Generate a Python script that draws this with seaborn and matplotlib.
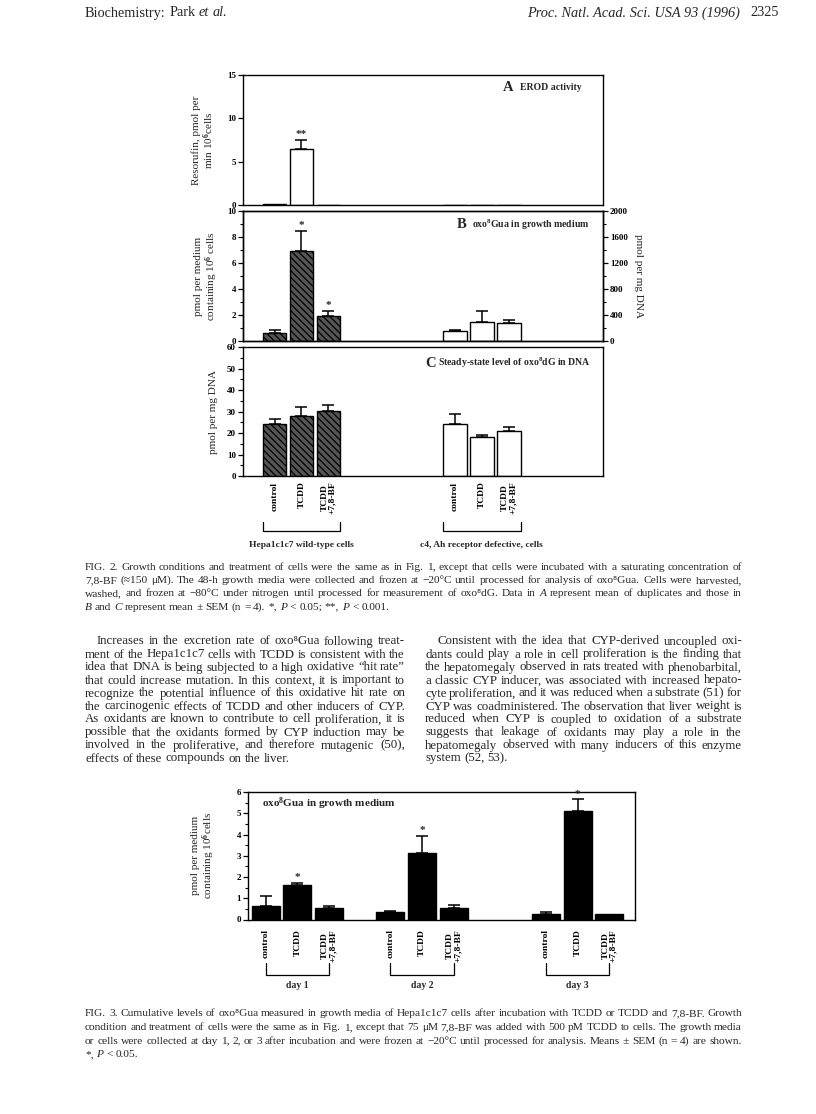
import matplotlib
matplotlib.use('Agg')
import matplotlib.pyplot as plt
from matplotlib.ticker import MultipleLocator
import numpy as np
import pandas as pd
import seaborn as sns

sns.set_theme(style='ticks')
plt.rcParams['font.family'] = ['Liberation Serif', 'DejaVu Serif']
plt.rcParams.update({
    'font.weight': 'bold',
    'mathtext.fontset': 'custom',
    'mathtext.rm': 'Liberation Serif:style=normal:weight=normal',
    'mathtext.it': 'Liberation Serif:style=italic:weight=normal',
    'mathtext.bf': 'Liberation Serif:style=normal:weight=bold',
    'axes.linewidth': 1.0,
    'axes.edgecolor': 'black',
    'hatch.linewidth': 0.9,
    'xtick.color': 'black',
    'ytick.color': 'black',
})

W, H, DPI = 816, 1114, 100

# ---- data ----
treatments = ['control', 'TCDD', 'TCDD\n+7,8-BF']
cell_groups = ['Hepa1c1c7 wild-type cells', 'c4, Ah receptor defective, cells']

# Fig 2A  EROD activity (resorufin, pmol per min 10^6 cells)
erod_wt = [0.15, 6.45, 0.05]
erod_wt_err = [0.0, 1.1, 0.0]
erod_c4 = [0.04, 0.04, 0.04]
erod_c4_err = [0.0, 0.0, 0.0]
erod_wt_sig = ['', '**', '']

# Fig 2B  oxo8Gua in growth medium
gua_wt = [0.62, 6.9, 1.91]
gua_wt_err = [0.26, 1.6, 0.39]
gua_c4 = [0.78, 1.5, 1.42]
gua_c4_err = [0.07, 0.8, 0.23]
gua_wt_sig = ['', '*', '*']

# Fig 2C  steady-state oxo8dG in DNA
dg_wt = [24.1, 27.8, 30.3]
dg_wt_err = [2.6, 4.5, 2.6]
dg_c4 = [24.4, 18.1, 20.7]
dg_c4_err = [4.3, 1.2, 2.2]

# Fig 3  cumulative oxo8Gua by day
days = ['day 1', 'day 2', 'day 3']
day1 = [0.64, 1.62, 0.52]
day1_err = [0.46, 0.11, 0.12]
day2 = [0.33, 3.14, 0.52]
day2_err = [0.08, 0.80, 0.14]
day3 = [0.27, 5.10, 0.27]
day3_err = [0.06, 0.55, 0.0]
day_sig = ['', '*', '']

# bar slots on the x axis (layout only)
wt_pos = [0, 1, 2]
c4_pos = [6.7, 7.7, 8.7]
day_pos = [[0, 1, 2], [3.93, 4.93, 5.93], [8.84, 9.84, 10.84]]

HATCH = '\\' * 5
BAR_W = 0.88


def box(x0, y0, x1, y1):
    return [x0 / W, 1 - y1 / H, (x1 - x0) / W, (y1 - y0) / H]


def bars(ax, pos, vals, errs, sig=None, **kw):
    df = pd.DataFrame({'x': pos, 'y': vals})
    sns.barplot(data=df, x='x', y='y', native_scale=True, width=BAR_W,
                errorbar=None, edgecolor='black', linewidth=1.0, ax=ax, **kw)
    e = np.array(errs)
    keep = e > 0
    if keep.any():
        ax.errorbar(np.array(pos)[keep], np.array(vals)[keep],
                    yerr=[np.zeros(keep.sum()), e[keep]], fmt='none',
                    ecolor='black', elinewidth=1.1, capsize=4.5, capthick=1.1,
                    zorder=3)
    if sig:
        for x, v, er, s in zip(pos, vals, errs, sig):
            if s:
                ax.annotate(s, (x, v + er), xytext=(0, 0.5),
                            textcoords='offset points', ha='center',
                            va='bottom', fontsize=8)


def bracket(ax, x0, x1, ytop, ybot):
    ax.plot([x0, x0, x1, x1], [ytop, ybot, ybot, ytop], color='black', lw=0.9,
            transform=ax.get_xaxis_transform(), clip_on=False)


def style_y(ax, top, major, minor):
    ax.set_ylim(0, top)
    ax.yaxis.set_major_locator(MultipleLocator(major))
    ax.yaxis.set_minor_locator(MultipleLocator(minor))
    ax.tick_params(axis='y', which='major', length=3.5, width=0.9,
                   labelsize=6.5, pad=1.5)
    ax.tick_params(axis='y', which='minor', length=2, width=0.8)


fig = plt.figure(figsize=(W / DPI, H / DPI), dpi=DPI)
fig.patch.set_facecolor('white')

# ---------------- Fig 2 ----------------
ax_a = fig.add_axes(box(243, 75, 603, 205))
bars(ax_a, wt_pos, erod_wt, erod_wt_err, erod_wt_sig, color='white')
bars(ax_a, c4_pos, erod_c4, erod_c4_err, color='white')
style_y(ax_a, 15, 5, 5)
ax_a.set_ylabel('Resorufin, pmol per\nmin 10$^{\\mathbf{6}}$cells', fontsize=8,
                linespacing=1.0)
ax_a.yaxis.set_label_coords(-0.075, 0.5)
ax_a.text(0.722, 0.905, 'A', transform=ax_a.transAxes, fontsize=10.5, va='center')
ax_a.text(0.769, 0.905, 'EROD activity', transform=ax_a.transAxes, fontsize=7,
          va='center')

ax_b = fig.add_axes(box(243, 211, 603, 341))
bars(ax_b, wt_pos, gua_wt, gua_wt_err, gua_wt_sig, color='#555555', hatch=HATCH)
bars(ax_b, c4_pos, gua_c4, gua_c4_err, color='white')
style_y(ax_b, 10, 2, 1)
ax_b.set_ylabel('pmol per medium\ncontaining 10$^{\\mathbf{6}}$ cells', fontsize=8,
                linespacing=1.0)
ax_b.yaxis.set_label_coords(-0.065, 0.5)
ax_b.text(0.594, 0.895, 'B', transform=ax_b.transAxes, fontsize=10.5, va='center')
ax_b.text(0.637, 0.895, 'oxo$^{\\mathbf{8}}$Gua in growth medium',
          transform=ax_b.transAxes, fontsize=7, va='center')
ax_b2 = ax_b.twinx()
style_y(ax_b2, 2000, 400, 200)
ax_b2.set_ylabel('pmol per mg DNA', fontsize=8, rotation=270, va='bottom')
ax_b2.yaxis.set_label_coords(1.085, 0.5)

ax_c = fig.add_axes(box(243, 347, 603, 476))
bars(ax_c, wt_pos, dg_wt, dg_wt_err, color='#555555', hatch=HATCH)
bars(ax_c, c4_pos, dg_c4, dg_c4_err, color='white')
style_y(ax_c, 60, 10, 5)
ax_c.set_ylabel('pmol per mg DNA', fontsize=8)
ax_c.yaxis.set_label_coords(-0.07, 0.5)
ax_c.text(0.506, 0.875, 'C', transform=ax_c.transAxes, fontsize=10.5, va='center')
ax_c.text(0.542, 0.875, 'Steady-state level of oxo$^{\\mathbf{8}}$dG in DNA',
          transform=ax_c.transAxes, fontsize=7, va='center')

for ax in (ax_a, ax_b, ax_c):
    ax.set_xlim(-1.17, 12.2)
    ax.set_xlabel('')
    ax.set_xticks([])
    ax.tick_params(axis='x', length=0)
ax_c.set_xticks(wt_pos + c4_pos)
ax_c.set_xticklabels(treatments * 2, rotation=90, fontsize=6.8,
                     multialignment='center', linespacing=0.95)
ax_c.tick_params(axis='x', length=0, pad=4)

for pos, name in zip([wt_pos, c4_pos], cell_groups):
    x0, x1 = pos[0] - BAR_W / 2, pos[-1] + BAR_W / 2
    bracket(ax_c, x0, x1, -0.355, -0.43)
    ax_c.text((x0 + x1) / 2, -0.535, name, transform=ax_c.get_xaxis_transform(),
              ha='center', va='center', fontsize=6.8)

# ---------------- Fig 3 ----------------
ax3 = fig.add_axes(box(248, 792, 635, 919.5))
for pos, vals, errs in zip(day_pos, [day1, day2, day3],
                           [day1_err, day2_err, day3_err]):
    bars(ax3, pos, vals, errs, day_sig, color='black')
style_y(ax3, 6, 1, 0.5)
ax3.set_xlim(-0.56, 11.65)
ax3.set_xlabel('')
ax3.set_ylabel('pmol per medium\ncontaining 10$^{\\mathbf{6}}$cells', fontsize=8,
               linespacing=1.0)
ax3.yaxis.set_label_coords(-0.08, 0.5)
ax3.text(0.036, 0.91, 'oxo$^{\\mathbf{8}}$Gua in growth medium',
         transform=ax3.transAxes, fontsize=8, va='center')
ax3.set_xticks(sum(day_pos, []))
ax3.set_xticklabels(treatments * 3, rotation=90, fontsize=6.8,
                    multialignment='center', linespacing=0.95)
ax3.tick_params(axis='x', length=0, pad=7)
for pos, name in zip(day_pos, days):
    bracket(ax3, pos[0], pos[-1], -0.34, -0.435)
    ax3.text((pos[0] + pos[-1]) / 2, -0.515, name,
             transform=ax3.get_xaxis_transform(), ha='center', va='center',
             fontsize=7)

# ---------------- page text, one word per Text, justified ----------------
renderer = fig.canvas.get_renderer()


def words_line(x0, x1, y, s, fs, justify=True):
    # words wrapped in _..._ are set in italic
    parts = s.split()
    arts = []
    for p in parts:
        style = 'normal'
        if len(p) > 2 and p[0] == '_' and p[-1] == '_':
            p, style = p[1:-1], 'italic'
        fam = ['Liberation Serif', 'DejaVu Serif'] if '⁸' in p else 'Liberation Serif'
        arts.append(fig.text(0, 1 - (y + 3.5) / H, p, fontsize=fs, family=fam,
                             fontweight='normal', style=style, va='baseline',
                             ha='left'))
    ws = [a.get_window_extent(renderer=renderer).width for a in arts]
    gap = fs * 0.25 * DPI / 72
    if justify and len(parts) > 1:
        gap = max((x1 - x0 - sum(ws)) / (len(parts) - 1), 1.5)
    x = x0
    for a, w in zip(arts, ws):
        a.set_x(x / W)
        x += w + gap


def paragraph(x0, x1, y0, step, lines, fs, indent=0):
    for i, s in enumerate(lines):
        words_line(x0 + (indent if i == 0 else 0), x1, y0 + i * step, s, fs,
                   justify=(i < len(lines) - 1))


words_line(85, 0, 13, 'Biochemistry: Park _et_ _al._', 10.3, justify=False)
fig.text(740 / W, 1 - 16.5 / H, 'Proc. Natl. Acad. Sci. USA 93 (1996)',
         fontsize=10.3, family='Liberation Serif', fontweight='normal',
         style='italic', ha='right', va='baseline')
fig.text(779 / W, 1 - 16.5 / H, '2325', fontsize=10.3, family='Liberation Serif',
         fontweight='normal', ha='right', va='baseline')

cap2 = [
    'FIG. 2.   Growth conditions and treatment of cells were the same as in Fig. 1, '
    'except that cells were incubated with a saturating concentration of',
    '7,8-BF (≈150 μM). The 48-h growth media were collected and frozen at −20°C '
    'until processed for analysis of oxo⁸Gua. Cells were harvested,',
    'washed, and frozen at −80°C under nitrogen until processed for measurement of '
    'oxo⁸dG. Data in _A_ represent mean of duplicates and those in',
    '_B_ and _C_ represent mean ± SEM (n = 4). *, _P_ < 0.05; **, _P_ < 0.001.',
]
paragraph(85, 742, 566, 13.4, cap2, 8.2)

left_col = [
    'Increases in the excretion rate of oxo⁸Gua following treat-',
    'ment of the Hepa1c1c7 cells with TCDD is consistent with the',
    'idea that DNA is being subjected to a high oxidative “hit rate”',
    'that could increase mutation. In this context, it is important to',
    'recognize the potential influence of this oxidative hit rate on',
    'the carcinogenic effects of TCDD and other inducers of CYP.',
    'As oxidants are known to contribute to cell proliferation, it is',
    'possible that the oxidants formed by CYP induction may be',
    'involved in the proliferative, and therefore mutagenic (50),',
    'effects of these compounds on the liver.',
]
right_col = [
    'Consistent with the idea that CYP-derived uncoupled oxi-',
    'dants could play a role in cell proliferation is the finding that',
    'the hepatomegaly observed in rats treated with phenobarbital,',
    'a classic CYP inducer, was associated with increased hepato-',
    'cyte proliferation, and it was reduced when a substrate (51) for',
    'CYP was coadministered. The observation that liver weight is',
    'reduced when CYP is coupled to oxidation of a substrate',
    'suggests that leakage of oxidants may play a role in the',
    'hepatomegaly observed with many inducers of this enzyme',
    'system (52, 53).',
]
paragraph(85, 405, 641, 13.0, left_col, 9.3, indent=12)
paragraph(425, 742, 641, 13.0, right_col, 9.3, indent=12)

cap3 = [
    'FIG. 3.   Cumulative levels of oxo⁸Gua measured in growth media of Hepa1c1c7 '
    'cells after incubation with TCDD or TCDD and 7,8-BF. Growth',
    'condition and treatment of cells were the same as in Fig. 1, except that 75 μM '
    '7,8-BF was added with 500 pM TCDD to cells. The growth media',
    'or cells were collected at day 1, 2, or 3 after incubation and were frozen at '
    '−20°C until processed for analysis. Means ± SEM (n = 4) are shown.',
    '*, _P_ < 0.05.',
]
paragraph(85, 742, 1013, 13.6, cap3, 8.2)

fig.savefig('out.png', dpi=DPI, facecolor='white')
